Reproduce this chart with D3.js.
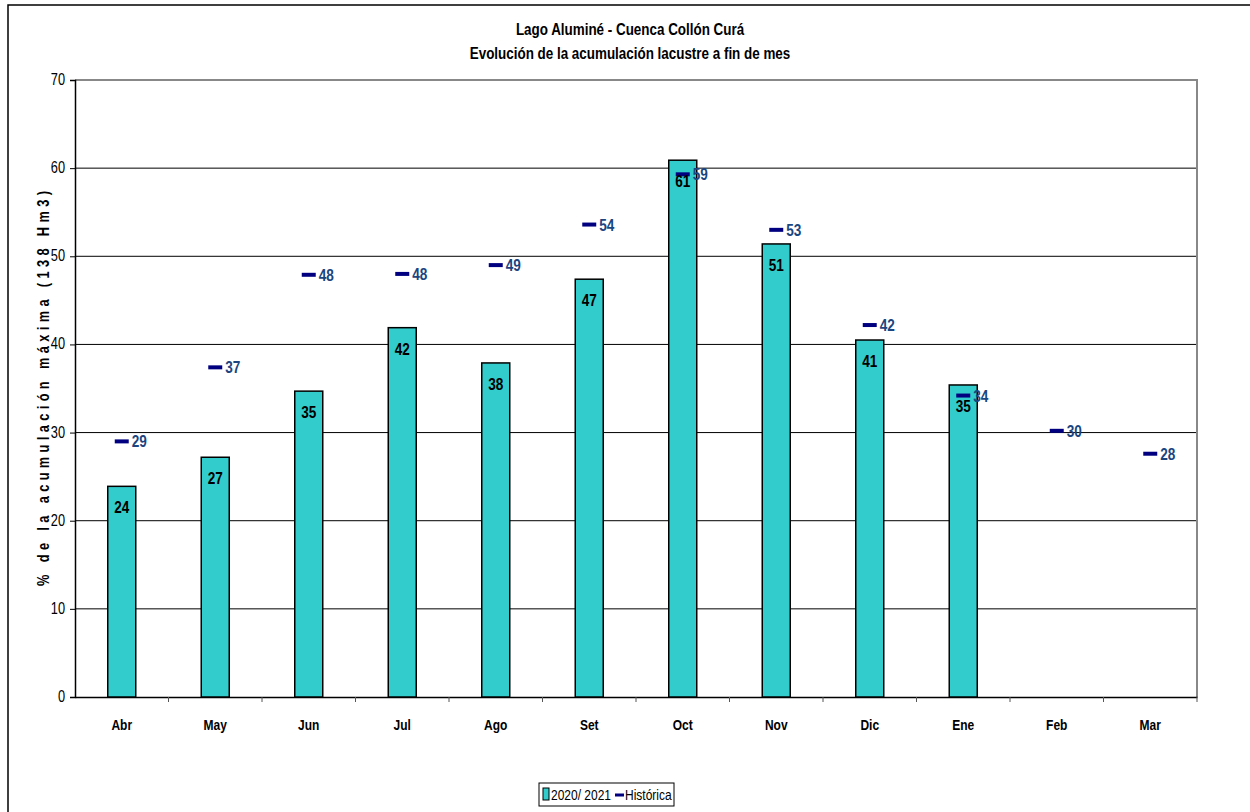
<!DOCTYPE html>
<html><head><meta charset="utf-8">
<script src="https://cdn.jsdelivr.net/npm/d3@7"></script>
<style>body{margin:0;background:#fff}svg{display:block}</style>
</head><body>
<svg id="c" width="1250" height="812"></svg>
<script>
const months = ["Abr","May","Jun","Jul","Ago","Set","Oct","Nov","Dic","Ene","Feb","Mar"];
const actual = [23.9,27.2,34.7,41.9,37.9,47.4,60.9,51.4,40.5,35.4,null,null];
const historica = [29.0,37.4,47.9,48.0,49.0,53.6,59.3,53.0,42.2,34.2,30.2,27.6];
const yTicks = [0,10,20,30,40,50,60,70];
const titleLines = ["Lago Aluminé - Cuenca Collón Curá","Evolución de la acumulación lacustre a fin de mes"];
const yTitle = "% de la acumulación máxima (138 Hm3)";
const legendLabels = ["2020/ 2021","Histórica"];

const font = "'Liberation Sans',Arial,sans-serif";
const SX = 0.8;
const svg = d3.select("#c");
const L=75,R=1197,T=80,B=697;
const x = d3.scaleBand().domain(months).range([L,R]);
const y = d3.scaleLinear().domain([0,70]).range([B,T]);

function txt(parent, px, py, s, o={}){
  const g = parent.append("g").attr("transform",`translate(${px},${py})`);
  const t = g.append("text").attr("transform",`scale(${o.sx||SX},1)`)
    .attr("text-anchor",o.anchor||"start").attr("font-family",font)
    .attr("font-size",o.size||14).attr("font-weight",o.bold?"bold":"normal")
    .attr("fill",o.fill||"#000").text(s);
  return t;
}

// outer frame
svg.append("rect").attr("x",8).attr("y",5).attr("width",1260).attr("height",830)
  .attr("fill","none").attr("stroke","#000").attr("stroke-width",1.5);

// title
titleLines.forEach((s,i)=>txt(svg,630,35+i*24,s,{anchor:"middle",bold:true,size:17,sx:0.79}));

// gridlines
svg.append("g").selectAll("line").data(yTicks.filter(d=>d>0&&d<70)).enter().append("line")
  .attr("x1",L).attr("x2",R).attr("y1",d=>y(d)).attr("y2",d=>y(d))
  .attr("stroke","#000").attr("stroke-width",1);
svg.append("path").attr("d",`M${L},${T}H${R}V${B}`).attr("fill","none").attr("stroke","#888").attr("stroke-width",2);

// y axis
const ya = svg.append("g").attr("transform",`translate(${L},0)`)
  .call(d3.axisLeft(y).tickValues(yTicks).tickSize(5).tickFormat(""));
ya.select(".domain").attr("stroke","#000").attr("stroke-width",1.5);
ya.selectAll(".tick line").attr("stroke","#000");
yTicks.forEach(v=>txt(svg,L-10,y(v)+5,String(v),{anchor:"end",size:16}));

// x axis
const xa = svg.append("g").attr("transform",`translate(0,${B})`)
  .call(d3.axisBottom(x).tickSize(0).tickFormat(""));
xa.select(".domain").attr("stroke","#000").attr("stroke-width",1.5);
months.forEach(m=>txt(svg,x(m)+x.bandwidth()/2,B+33,m,{anchor:"middle",bold:true,size:15}));
svg.append("g").selectAll("line").data(months).enter().append("line")
  .attr("x1",d=>x(d)+x.step()).attr("x2",d=>x(d)+x.step())
  .attr("y1",B).attr("y2",B+5).attr("stroke","#555").attr("stroke-width",1);

// y title
{
  const g = svg.append("g").attr("transform",`translate(49,${(T+B)/2}) rotate(-90)`);
  g.append("text").attr("transform",`scale(${SX},1)`).attr("text-anchor","middle")
    .attr("font-family",font).attr("font-weight","bold").attr("font-size",16)
    .attr("textLength",395/SX).attr("lengthAdjust","spacing").text(yTitle);
}

const bw = 28;
const bars = months.map((m,i)=>({m,v:actual[i]})).filter(d=>d.v!=null);
svg.append("g").selectAll("rect").data(bars).enter().append("rect")
  .attr("x",d=>x(d.m)+x.bandwidth()/2-bw/2).attr("width",bw)
  .attr("y",d=>y(d.v)).attr("height",d=>B-y(d.v))
  .attr("fill","#33CCCC").attr("stroke","#000").attr("stroke-width",1.5);

const hist = months.map((m,i)=>({m,v:historica[i]}));
svg.append("g").selectAll("line").data(hist).enter().append("line")
  .attr("x1",d=>x(d.m)+x.bandwidth()/2-7).attr("x2",d=>x(d.m)+x.bandwidth()/2+7)
  .attr("y1",d=>y(d.v)).attr("y2",d=>y(d.v)).attr("stroke","#000080").attr("stroke-width",4);

bars.forEach(d=>txt(svg,x(d.m)+x.bandwidth()/2,y(d.v)+27,String(Math.round(d.v)),{anchor:"middle",bold:true,size:17}));
hist.forEach(d=>txt(svg,x(d.m)+x.bandwidth()/2+10,y(d.v)+6,String(Math.round(d.v)),{bold:true,size:17,fill:"#1A4580"}));

// legend
const lg = svg.append("g");
lg.append("rect").attr("x",539).attr("y",783).attr("width",135).attr("height",23)
  .attr("fill","#fff").attr("stroke","#000").attr("stroke-width",1);
lg.append("rect").attr("x",543).attr("y",788).attr("width",6).attr("height",12)
  .attr("fill","#33CCCC").attr("stroke","#000").attr("stroke-width",1);
txt(lg,551,800,legendLabels[0],{size:15});
lg.append("line").attr("x1",615).attr("x2",624).attr("y1",795).attr("y2",795).attr("stroke","#000080").attr("stroke-width",3);
txt(lg,625,800,legendLabels[1],{size:15});
</script>
</body></html>
